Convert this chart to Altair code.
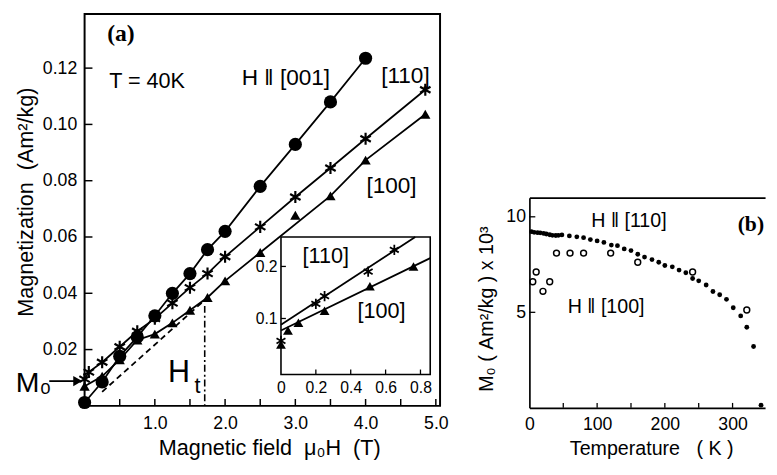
import altair as alt
import pandas as pd

SANS = "Liberation Sans"
SERIF = "Liberation Serif"
NB = "\u00a0"

# ---------------- panel (a): M(H) at T = 40 K ----------------
h001 = [0.0, 0.25, 0.5, 0.75, 1.0, 1.25, 1.5, 1.75, 2.0, 2.5, 3.0, 3.5, 4.0]
m001 = [0.0012, 0.0085, 0.0176, 0.0245, 0.032, 0.040, 0.047, 0.0555, 0.062, 0.078, 0.0929, 0.108, 0.1235]

h110 = [0.0, 0.06, 0.25, 0.5, 0.75, 1.0, 1.25, 1.5, 1.75, 2.0, 2.5, 3.0, 3.5, 4.0, 4.85]
m110 = [0.0095, 0.012, 0.0155, 0.021, 0.0265, 0.031, 0.0365, 0.042, 0.047, 0.053, 0.0636, 0.0742, 0.0845, 0.0949, 0.1123]

h100 = [0.0, 0.25, 0.5, 0.75, 1.0, 1.25, 1.5, 1.75, 2.0, 2.5, 3.0, 3.5, 4.0, 4.85]
m100 = [0.007, 0.0105, 0.0164, 0.0234, 0.0255, 0.0295, 0.034, 0.0385, 0.0444, 0.0545, 0.0677, 0.0746, 0.0873, 0.1036]
outlier100 = [3.0]          # triangle that sits off the drawn [100] line

dash_h = [0.25, 1.75]       # dashed high-field extrapolation of [100]
dash_m = [0.005, 0.0385]
ht_h = [1.71]               # H_t marker
ht_m = [0.0355]
m0_level = [0.0088]         # M0 arrow level

xa_ticks = [0.5, 1.0, 1.5, 2.0, 2.5, 3.0, 3.5, 4.0, 4.5, 5.0]
xa_labels = [1, 2, 3, 4, 5]
ya_ticks = [0.02, 0.04, 0.06, 0.08, 0.10, 0.12]

# inset
ins_star_h = [0.0, 0.2, 0.25, 0.5, 0.65]
ins_star_m = [0.057, 0.128, 0.143, 0.19, 0.232]
ins_l110_h = [0.0, 0.77]
ins_l110_m = [0.088, 0.2566]
ins_tri_h = [0.0, 0.04, 0.1, 0.25, 0.51, 0.76]
ins_tri_m = [0.05, 0.077, 0.092, 0.115, 0.162, 0.2]
ins_l100_h = [0.0, 0.856]
ins_l100_m = [0.077, 0.216]
xi_ticks = [0.2, 0.4, 0.6, 0.8]
yi_ticks = [0.1, 0.2]

# ---------------- panel (b): M0(T) ----------------
t110 = [3, 7, 12, 16, 21, 25, 30, 34, 39, 43, 48, 59, 70, 80, 90, 100, 110, 121, 130, 140,
        150, 160, 170, 181, 191, 200, 211, 221, 231, 241, 250, 261, 271, 281, 291, 301,
        312, 321, 331, 342]
m0_110 = [9.22, 9.19, 9.17, 9.16, 9.13, 9.1, 9.06, 9.03, 9.02, 9.03, 9.05, 9.0, 8.95, 8.91,
          8.81, 8.74, 8.66, 8.52, 8.49, 8.32, 8.23, 8.04, 7.89, 7.76, 7.62, 7.45, 7.38,
          7.21, 7.07, 6.77, 6.65, 6.43, 6.09, 5.92, 5.68, 5.24, 4.81, 4.22, 3.21, 0.14]
t100 = [5, 10, 20, 30, 40, 60, 80, 120, 160, 241, 321]
m0_100 = [6.6, 7.11, 6.1, 6.6, 8.1, 8.1, 8.1, 8.1, 7.62, 7.11, 5.12]
xb_ticks = [50, 100, 150, 200, 250, 300]
xb_labels = [0, 100, 200, 300]
yb_ticks = [5, 10]

STAR = "M0,-1L0,1M-0.866,-0.5L0.866,0.5M-0.866,0.5L0.866,-0.5"

WA, HA = 362, 399
WB, HB = 240, 214
GAP_B = 185                 # empty space above panel (b)

ONE = pd.DataFrame({"k": [0]})


def df(**cols):
    return pd.DataFrame(cols)


def label(txt, x, y, size=22, align="left", font=SANS, weight="normal"):
    return alt.Chart(pd.DataFrame({"t": [txt]})).mark_text(
        align=align, baseline="alphabetic", fontSize=size, font=font,
        fontWeight=weight, color="black"
    ).encode(x=alt.value(x), y=alt.value(y), text="t:N")


# ---- scales / axes panel (a)
XA = alt.Scale(domain=[0, 5.06], nice=False, zero=False)
YA = alt.Scale(domain=[0, 0.1392], nice=False, zero=False)
AX_XA = alt.Axis(values=xa_labels, format=".1f", ticks=False, domain=False, grid=False,
                 labelFontSize=18, labelPadding=9, labelFlush=False,
                 title="Magnetic field" + NB * 2 + "μ₀H" + NB * 2 + "(T)",
                 titleFontSize=22, titleX=188, titleY=43,
                 titleBaseline="middle", titleAlign="center")
AX_YA = alt.Axis(values=ya_ticks, format=".2f", ticks=False, domain=False, grid=False,
                 labelFontSize=18, labelPadding=8, labelFlush=False,
                 title="Magnetization" + NB * 2 + "(Am²/kg)",
                 titleFontSize=22, titleAngle=270, titleX=-60, titleY=191,
                 titleBaseline="middle", titleAlign="center")


def xa(f):
    return alt.X(f + ":Q", scale=XA, axis=AX_XA)


def ya(f):
    return alt.Y(f + ":Q", scale=YA, axis=AX_YA)


a100 = df(h=h100, m=m100)
a100_line = a100[~a100["h"].isin(outlier100)]

main_layers = [
    alt.Chart(ONE).mark_rect(fillOpacity=0, stroke="black", strokeWidth=2).encode(
        x=alt.value(0), x2=alt.value(WA), y=alt.value(0), y2=alt.value(HA)),
    alt.Chart(df(v=xa_ticks)).mark_rule(color="black", strokeWidth=1.5).encode(
        x=xa("v"), y=alt.value(HA), y2=alt.value(HA - 7)),
    alt.Chart(df(v=ya_ticks)).mark_rule(color="black", strokeWidth=1.5).encode(
        y=ya("v"), x=alt.value(0), x2=alt.value(8)),
    alt.Chart(df(h=dash_h, m=dash_m)).mark_line(color="black", strokeWidth=1.8, strokeDash=[6, 4]).encode(
        x=xa("h"), y=ya("m")),
    alt.Chart(df(h=ht_h, m=ht_m)).mark_rule(color="black", strokeWidth=1.6, strokeDash=[7, 3, 2, 3]).encode(
        x=xa("h"), y=ya("m"), y2=alt.value(HA)),
    alt.Chart(df(h=h001, m=m001)).mark_line(color="black", strokeWidth=1.8).encode(x=xa("h"), y=ya("m")),
    alt.Chart(df(h=h110, m=m110)).mark_line(color="black", strokeWidth=1.8).encode(x=xa("h"), y=ya("m")),
    alt.Chart(a100_line).mark_line(color="black", strokeWidth=1.8).encode(x=xa("h"), y=ya("m")),
    alt.Chart(df(h=h001, m=m001)).mark_point(shape="circle", filled=True, color="black", opacity=1, size=180).encode(
        x=xa("h"), y=ya("m")),
    alt.Chart(df(h=h110, m=m110)).mark_point(shape=STAR, filled=False, color="black", opacity=1, size=150,
                                             strokeWidth=2.2).encode(x=xa("h"), y=ya("m")),
    alt.Chart(a100).mark_point(shape="triangle-up", filled=True, color="black", opacity=1, size=110).encode(
        x=xa("h"), y=ya("m")),
    # M0 arrow
    alt.Chart(df(m=m0_level)).mark_rule(color="black", strokeWidth=1.8).encode(
        x=alt.value(-36), x2=alt.value(-8), y=ya("m")),
    alt.Chart(df(m=m0_level)).mark_point(shape="triangle-right", filled=True, color="black", opacity=1,
                                         size=110).encode(x=alt.value(-7), y=ya("m")),
    label("(a)", 23, 27, size=24, font=SERIF, weight="bold"),
    label("T = 40K", 25, 75, size=22),
    label("H \u2016 [001]", 160, 72, size=23),
    label("[110]", 302, 70, size=23),
    label("[100]", 287, 182, size=23),
    label("M₀", -70, 385, size=29),
    label("H", 85, 375, size=31),
    label("t", 112, 386, size=22),
]
main = alt.layer(*main_layers)

# ---- inset scales / axes
XI = alt.Scale(domain=[0, 0.856], range=[200, 352], nice=False, zero=False)
YI = alt.Scale(domain=[-0.0075, 0.2566], range=[367, 227], nice=False, zero=False)
AX_XI = alt.Axis(orient="bottom", offset=-32, values=[0, 0.2, 0.4, 0.6, 0.8],
                 labelExpr="datum.value == 0 ? '0' : format(datum.value, '.1f')",
                 ticks=False, domain=False, grid=False, labelFontSize=16, labelPadding=5,
                 labelFlush=False, title=None)
AX_YI = alt.Axis(orient="left", offset=-200, values=yi_ticks, format=".1f",
                 ticks=False, domain=False, grid=False, labelFontSize=16, labelPadding=4,
                 labelFlush=False, title=None)


def xi(f):
    return alt.X(f + ":Q", scale=XI, axis=AX_XI)


def yi(f):
    return alt.Y(f + ":Q", scale=YI, axis=AX_YI)


inset_layers = [
    alt.Chart(ONE).mark_rect(fill="white", stroke="black", strokeWidth=1.6).encode(
        x=alt.value(200), x2=alt.value(352), y=alt.value(227), y2=alt.value(367)),
    alt.Chart(df(v=xi_ticks)).mark_rule(color="black", strokeWidth=1.3).encode(
        x=xi("v"), y=alt.value(367), y2=alt.value(362)),
    alt.Chart(df(v=yi_ticks)).mark_rule(color="black", strokeWidth=1.3).encode(
        y=yi("v"), x=alt.value(200), x2=alt.value(205)),
    alt.Chart(df(h=ins_l110_h, m=ins_l110_m)).mark_line(color="black", strokeWidth=1.8).encode(
        x=xi("h"), y=yi("m")),
    alt.Chart(df(h=ins_l100_h, m=ins_l100_m)).mark_line(color="black", strokeWidth=1.8).encode(
        x=xi("h"), y=yi("m")),
    alt.Chart(df(h=ins_star_h, m=ins_star_m)).mark_point(shape=STAR, filled=False, color="black", opacity=1,
                                                         size=110, strokeWidth=1.8).encode(x=xi("h"), y=yi("m")),
    alt.Chart(df(h=ins_tri_h, m=ins_tri_m)).mark_point(shape="triangle-up", filled=True, color="black",
                                                       opacity=1, size=100).encode(x=xi("h"), y=yi("m")),
    label("[110]", 222, 254, size=22),
    label("[100]", 278, 310, size=22),
]
inset = alt.layer(*inset_layers)

panel_a = alt.layer(main, inset).resolve_scale(x="independent", y="independent").properties(
    width=WA, height=HA)

# ---- panel (b)
XB = alt.Scale(domain=[0, 348], nice=False, zero=False)
YB = alt.Scale(domain=[0, 11], nice=False, zero=False)
AX_XB = alt.Axis(values=xb_labels, format="d", ticks=False, domain=True, domainColor="black",
                 domainWidth=1.7, grid=False, labelFontSize=18, labelPadding=8, labelFlush=False,
                 title="Temperature" + NB * 3 + "(" + NB + "K" + NB + ")",
                 titleFontSize=20, titleX=124, titleY=42, titleBaseline="middle", titleAlign="center")
AX_YB = alt.Axis(values=yb_ticks, format="d", ticks=False, domain=True, domainColor="black",
                 domainWidth=1.7, grid=False, labelFontSize=18, labelPadding=4, labelFlush=False,
                 title="M₀" + NB + "(" + NB + "Am²/kg" + NB + ")" + NB + "x" + NB + "10³",
                 titleFontSize=20, titleAngle=270, titleX=-44, titleY=113,
                 titleBaseline="middle", titleAlign="center")
AX_TOP = alt.Axis(orient="top", labels=False, ticks=False, grid=False, domain=True,
                  domainColor="black", domainWidth=1.7, title=None)


def xb(f):
    return alt.X(f + ":Q", scale=XB, axis=AX_XB)


def yb(f):
    return alt.Y(f + ":Q", scale=YB, axis=AX_YB)


b_main = alt.layer(
    alt.Chart(df(v=xb_ticks)).mark_rule(color="black", strokeWidth=1.3).encode(
        x=xb("v"), y=alt.value(HB), y2=alt.value(HB - 5)),
    alt.Chart(df(v=yb_ticks)).mark_rule(color="black", strokeWidth=1.3).encode(
        y=yb("v"), x=alt.value(0), x2=alt.value(6)),
    alt.Chart(df(t=t110, m=m0_110)).mark_point(shape="circle", filled=True, color="black", opacity=1,
                                               size=24).encode(x=xb("t"), y=yb("m")),
    alt.Chart(df(t=t100, m=m0_100)).mark_point(shape="circle", filled=False, color="black", opacity=1,
                                               size=36, strokeWidth=1.5).encode(x=xb("t"), y=yb("m")),
    label("H \u2016 [110]", 63, 30, size=20),
    label("H \u2016 [100]", 39, 117, size=20),
    label("(b)", WB - 1, 34, size=22, align="right", font=SERIF, weight="bold"),
)
b_top = alt.Chart(df(t=[0, 1])).mark_point(opacity=0).encode(
    x=alt.X("t:Q", scale=alt.Scale(domain=[0, 1], nice=False, zero=False), axis=AX_TOP))

panel_b = alt.layer(b_main, b_top).resolve_scale(x="independent").properties(width=WB, height=HB)

spacer = alt.Chart(ONE).mark_point(opacity=0, size=4).encode(
    x=alt.value(20), y=alt.value(GAP_B // 2)).properties(width=40, height=GAP_B)

right_col = alt.vconcat(spacer, panel_b, spacing=0)

chart = alt.hconcat(panel_a, right_col, spacing=27).properties(
    padding={"left": 6, "top": 0, "right": 0, "bottom": 0}
).configure_view(stroke="transparent").configure_axis(
    labelFont=SANS, titleFont=SANS, labelColor="black", titleColor="black",
    titleFontWeight="normal"
)

chart.save("out.html", embed_options={"renderer": "svg", "actions": False})
